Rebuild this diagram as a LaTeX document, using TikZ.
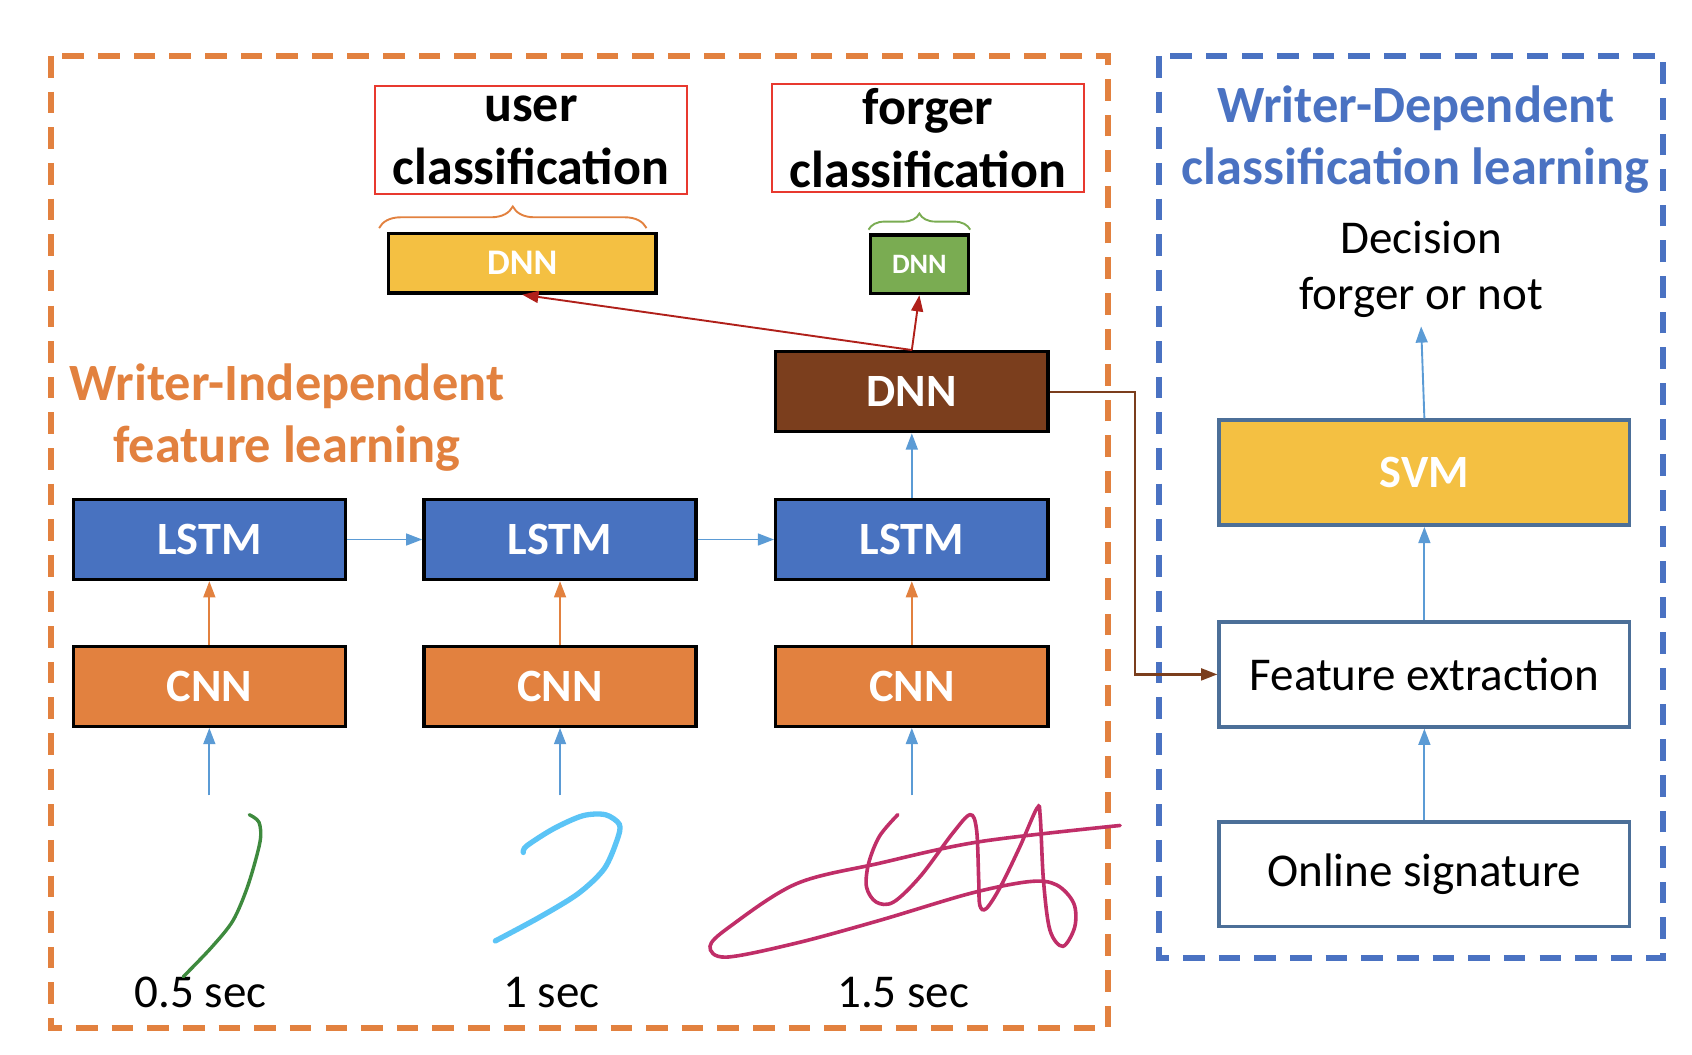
\documentclass[tikz,border=0pt]{standalone}
\usepackage{fontspec}
\setmainfont{Carlito}
\usetikzlibrary{arrows.meta,decorations.pathreplacing}
\definecolor{cnnorange}{HTML}{E2813F}
\definecolor{lstmblue}{HTML}{4872C0}
\definecolor{dnnbrown}{HTML}{7B3E1D}
\definecolor{dnngold}{HTML}{F4C042}
\definecolor{dnngreen}{HTML}{7AAC52}
\definecolor{boxred}{HTML}{E8392F}
\definecolor{arrred}{HTML}{B0201A}
\definecolor{arrblue}{HTML}{5B9BD5}
\definecolor{wdblue}{HTML}{4A72C2}
\definecolor{wdedge}{HTML}{4C6F98}
\definecolor{sigpink}{HTML}{C02E68}
\definecolor{siggreen}{HTML}{3E8A3E}
\definecolor{sigcyan}{HTML}{5BC4F6}
\begin{document}
\begin{tikzpicture}[x=0.01cm,y=-0.01cm,
  nnbox/.style={draw=black,line width=0.9pt,minimum width=2.52cm,minimum height=0.74cm,inner sep=0pt,text=white,font=\bfseries\fontsize{12.2}{14}\selectfont},
  wdbox/.style={draw=wdedge,line width=1pt,minimum width=3.8cm,minimum height=0.97cm,inner sep=0pt,font=\fontsize{12.4}{15}\selectfont},
  redbox/.style={draw=boxred,line width=0.6pt,minimum width=2.89cm,minimum height=1cm,inner sep=0pt,align=center,font=\bfseries\fontsize{13.7}{16.4}\selectfont},
  lbl/.style={font=\fontsize{12.4}{14.8}\selectfont,align=center},
  ttl/.style={font=\bfseries\fontsize{13.8}{16.3}\selectfont,align=center},
  arr/.style={draw=arrblue,line width=0.5pt,-{Triangle[length=0.15cm,width=0.11cm]}},
  groupbox/.style={line width=1.6pt,dash pattern=on 0.2cm off 0.13cm}]
\useasboundingbox (0,0) rectangle (1568,977);

\draw[groupbox,draw=cnnorange] (47,52) rectangle (1027,953);
\draw[groupbox,draw=wdblue] (1074,52) rectangle (1541,888);

\foreach \n/\x/\t in {1/194/0.5 sec,2/519/1 sec,3/845/1.5 sec} {
  \node[nnbox,fill=cnnorange] (cnn\n) at (\x,636) {\raisebox{-1.5pt}{CNN}};
  \node[nnbox,fill=lstmblue] (lstm\n) at (\x,500) {\raisebox{-1.5pt}{LSTM}};
  \node[lbl] (t\n) at (\x-8,920) {\t};
  \coordinate (s\n) at (\x,737);
  \draw[arr] (s\n) -- (cnn\n);
  \draw[arr,draw=cnnorange] (cnn\n) -- (lstm\n);
}
\draw[arr] (lstm1) -- (lstm2);
\draw[arr] (lstm2) -- (lstm3);

\node[nnbox,fill=dnnbrown] (wdnn) at (845,363) {\raisebox{-1.5pt}{DNN}};
\node[nnbox,fill=dnngold,minimum width=2.48cm,minimum height=0.55cm,font=\bfseries\fontsize{9.5}{11}\selectfont] (udnn) at (484,244) {DNN};
\node[nnbox,fill=dnngreen,minimum width=0.91cm,minimum height=0.54cm,font=\bfseries\fontsize{7.4}{9}\selectfont] (fdnn) at (852,245) {DNN};
\draw[arr] (lstm3) -- (wdnn);
\draw[arr,draw=arrred] (wdnn.north) -- (udnn.south);
\draw[arr,draw=arrred] (wdnn.north) -- (fdnn.south);

\draw[cnnorange,line width=0.5pt,decorate,decoration={brace,amplitude=0.2cm}]
  ([xshift=-2pt,yshift=1pt]udnn.north west) -- ([xshift=-3pt,yshift=1pt]udnn.north east);
\draw[dnngreen,line width=0.5pt,decorate,decoration={brace,amplitude=0.15cm}]
  ([yshift=1pt]fdnn.north west) -- ([yshift=1pt]fdnn.north east);

\node[redbox] (ucls) at (492,130) {\raisebox{-3pt}{user}\\\raisebox{-3pt}{classification}};
\node[redbox] (fcls) at (860,128) {\raisebox{-2pt}{forger}\\\raisebox{-2pt}{classification}};
\node[ttl,text=cnnorange] (wi) at (266,387) {Writer-Independent\\feature learning};

\node[ttl,text=wdblue] (wd) at (1312,129) {Writer-Dependent\\classification learning};
\node[lbl,inner sep=2pt] (dec) at (1317,250) {Decision\\forger or not};
\node[wdbox,fill=dnngold,text=white,font=\bfseries\fontsize{12.2}{14}\selectfont] (svm) at (1320,438) {\raisebox{-1.5pt}{SVM}};
\node[wdbox] (feat) at (1320,625) {Feature extraction};
\node[wdbox] (osig) at (1320,810) {Online signature};
\draw[arr] (osig) -- (feat);
\draw[arr] (feat) -- (svm);
\draw[arr] (svm.north) -- (dec.south);
\draw[draw=dnnbrown,line width=0.6pt,-{Triangle[length=0.15cm,width=0.11cm]}] (wdnn.east) -- ++(79,0) |- (feat.west);

\draw[siggreen,line width=0.9pt,line cap=round] plot[smooth] coordinates {(170,905) (196,878) (216,853) (230,820) (241,780) (240,762) (231,755)};
\draw[sigcyan,line width=1.4pt,line cap=round] plot[smooth] coordinates {(459,872) (500,850) (536,828) (560,805) (572,778) (574,764) (561,755) (540,756) (513,768) (488,784) (485,790)};
\draw[sigpink,line width=0.95pt,line cap=round] plot[smooth,tension=0.55] coordinates {(832,755) (815,775) (805,800) (803,822) (812,836) (828,836) (853,812) (883,772) (899,755) (905,769) (907,816) (908,839) (914,842) (927,822) (945,785) (961,749) (964,757) (967,816) (973,862) (985,877) (996,859) (995,837) (979,820) (954,817) (899,828) (815,853) (738,874) (673,887) (658,877) (676,859) (738,819) (815,800) (908,780) (1038,765)};
\end{tikzpicture}
\end{document}
